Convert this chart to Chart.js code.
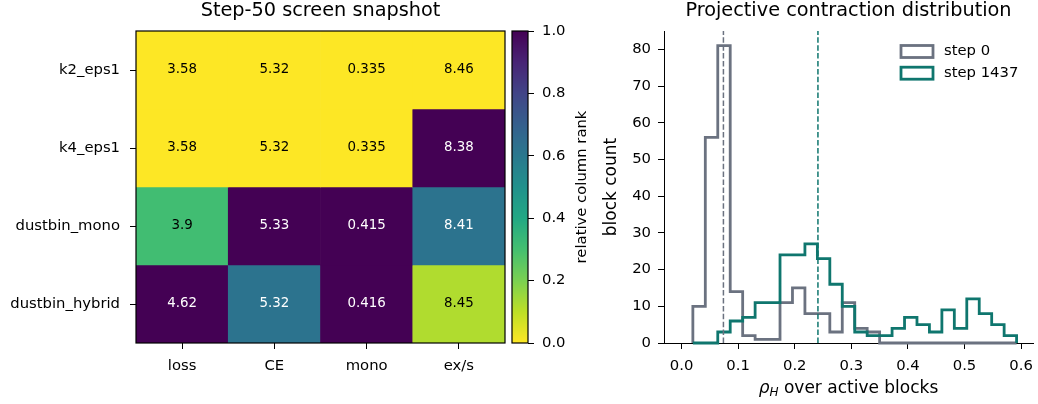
<!DOCTYPE html>
<html>
<head>
<meta charset="utf-8">
<script src="https://cdn.jsdelivr.net/npm/chart.js@4.4.1/dist/chart.umd.min.js"></script>
<style>
  html, body { margin:0; padding:0; background:#fff; }
  #wrap { position:relative; width:1038px; height:404px; overflow:hidden; }
  .box { position:absolute; top:0; height:404px; }
  #heatBox { left:0; width:510px; }
  #cbarBox { left:505px; width:100px; }
  #histBox { left:600px; width:438px; }
</style>
</head>
<body>
<div id="wrap">
  <div class="box" id="heatBox"><canvas id="heatChart"></canvas></div>
  <div class="box" id="cbarBox"><canvas id="cbarChart"></canvas></div>
  <div class="box" id="histBox"><canvas id="histChart"></canvas></div>
</div>
<script>
/* ===== data: heatmap ===== */
const rowLabels = ['k2_eps1', 'k4_eps1', 'dustbin_mono', 'dustbin_hybrid'];
const colLabels = ['loss', 'CE', 'mono', 'ex/s'];
const cellValues = [
  [3.58, 5.32, 0.335, 8.46],
  [3.58, 5.32, 0.335, 8.38],
  [3.9,  5.33, 0.415, 8.41],
  [4.62, 5.32, 0.416, 8.45]
];
// relative column rank (colour)
const cellRanks = [
  [0,    0,    0, 0],
  [0,    0,    0, 1],
  [0.31, 1,    1, 0.62],
  [1,    0.62, 1, 0.12]
];
const rankTicks = [0, 0.2, 0.4, 0.6, 0.8, 1.0];

/* ===== data: histogram ===== */
const binEdges = [0.020, 0.042, 0.064, 0.086, 0.108, 0.130, 0.152, 0.174, 0.196,
  0.218, 0.240, 0.262, 0.284, 0.306, 0.328, 0.350, 0.372, 0.394, 0.416, 0.438,
  0.460, 0.482, 0.504, 0.526, 0.548, 0.570, 0.592];
const countsStep0    = [10, 56, 81, 14, 2, 1, 1, 11, 15, 8, 8, 3, 11, 4, 3, 0, 0, 0, 0, 0, 0, 0, 0, 0, 0, 0];
const countsStep1437 = [0, 0, 3, 6, 7, 11, 11, 24, 24, 27, 23, 16, 10, 3, 2, 2, 4, 7, 5, 3, 9, 4, 12, 8, 5, 2];
const meanStep0 = 0.074;
const meanStep1437 = 0.241;
const histXTicks = [0, 0.1, 0.2, 0.3, 0.4, 0.5, 0.6];
const histYTicks = [0, 10, 20, 30, 40, 50, 60, 70, 80];

/* ===== colours / fonts ===== */
const GRAY = '#6b7280';
const TEAL = '#0f766e';
const FONT = 'DejaVu Sans';
const TICK = 14.8;
const VIRIDIS = ['#440154', '#482475', '#414487', '#355f8d', '#2a788e', '#21918c',
  '#22a884', '#44bf70', '#7ad151', '#bddf26', '#fde725'];

Chart.defaults.font.family = FONT;
Chart.defaults.color = '#000';

function hexToRgb(h){ return [1,3,5].map(i => parseInt(h.slice(i, i+2), 16)); }
function viridis(t){
  t = Math.min(1, Math.max(0, t));
  const p = t * (VIRIDIS.length - 1);
  const i = Math.min(VIRIDIS.length - 2, Math.floor(p));
  const f = p - i;
  const a = hexToRgb(VIRIDIS[i]), b = hexToRgb(VIRIDIS[i+1]);
  const c = a.map((v, k) => Math.round(v + (b[k] - v) * f));
  return `rgb(${c[0]},${c[1]},${c[2]})`;
}
// reversed map: rank 0 -> yellow, rank 1 -> purple
const rankColor = r => viridis(1 - r);

// force an axis to an exact thickness so chart areas line up
function fitTo(size){
  return scale => {
    if (scale.isHorizontal()) scale.height = size; else scale.width = size;
    scale.paddingLeft = scale.paddingRight = scale.paddingTop = scale.paddingBottom = 0;
  };
}
function fixedTicks(list){
  return scale => { scale.ticks = list.map(v => ({ value: v })); };
}
function text(ctx, str, x, y, size, opts = {}){
  ctx.save();
  ctx.font = `${opts.style || ''} ${size}px "${FONT}"`;
  ctx.fillStyle = opts.color || '#000';
  ctx.textAlign = opts.align || 'center';
  ctx.textBaseline = opts.baseline || 'middle';
  if (opts.rotate){ ctx.translate(x, y); ctx.rotate(opts.rotate); ctx.fillText(str, 0, 0); }
  else ctx.fillText(str, x, y);
  ctx.restore();
}

const tickGrid = len => ({ display: true, drawOnChartArea: false, drawTicks: true,
  tickLength: len, tickColor: '#000', tickWidth: 1 });

/* ===== heatmap ===== */
const heatPlugin = {
  id: 'heatExtras',
  afterDatasetsDraw(chart){
    const { ctx, chartArea: a, scales: { x, y } } = chart;
    cellValues.forEach((row, r) => row.forEach((v, c) => {
      text(ctx, String(v), x.getPixelForValue(c), y.getPixelForValue(r), 13.4,
        { color: cellRanks[r][c] > 0.5 ? '#fff' : '#000' });
    }));
    ctx.save();
    ctx.strokeStyle = '#000';
    ctx.lineWidth = 1.2;
    ctx.strokeRect(a.left, a.top, a.right - a.left, a.bottom - a.top);
    ctx.restore();
    text(ctx, 'Step-50 screen snapshot', (a.left + a.right) / 2, 16, 19.3, { baseline: 'alphabetic' });
  }
};

new Chart(document.getElementById('heatChart'), {
  type: 'bar',
  data: {
    labels: colLabels,
    datasets: rowLabels.map((name, r) => ({
      label: name,
      data: colLabels.map(() => [r - 0.5, r + 0.5]),
      backgroundColor: cellRanks[r].map(rankColor),
      borderWidth: 0,
      grouped: false,
      barPercentage: 1,
      categoryPercentage: 1
    }))
  },
  options: {
    responsive: true, maintainAspectRatio: false, animation: false, devicePixelRatio: 1,
    layout: { padding: { left: 0, top: 31, right: 5, bottom: 0 } },
    plugins: { legend: { display: false }, tooltip: { enabled: false } },
    scales: {
      x: {
        grid: { ...tickGrid(6), offset: false },
        border: { display: false },
        ticks: { font: { size: TICK }, padding: 8, maxRotation: 0 },
        afterFit: fitTo(61)
      },
      y: {
        type: 'linear', reverse: true, min: -0.5, max: 3.5,
        grid: tickGrid(6),
        border: { display: false },
        afterBuildTicks: fixedTicks(rowLabels.map((_, i) => i)),
        ticks: { font: { size: TICK }, padding: 10, callback: v => rowLabels[v] },
        afterFit: fitTo(136)
      }
    }
  },
  plugins: [heatPlugin]
});

/* ===== colorbar ===== */
const cbarPlugin = {
  id: 'cbarExtras',
  beforeDatasetsDraw(chart){
    const { ctx, chartArea: a } = chart;
    const g = ctx.createLinearGradient(0, a.bottom, 0, a.top);
    for (let i = 0; i <= 20; i++) g.addColorStop(i / 20, rankColor(i / 20));
    ctx.save();
    ctx.fillStyle = g;
    ctx.fillRect(a.left, a.top, a.right - a.left, a.bottom - a.top);
    ctx.strokeStyle = '#000';
    ctx.lineWidth = 1.2;
    ctx.strokeRect(a.left, a.top, a.right - a.left, a.bottom - a.top);
    ctx.restore();
  },
  afterDraw(chart){
    const { ctx, chartArea: a } = chart;
    text(ctx, 'relative column rank', 77, (a.top + a.bottom) / 2, TICK, { rotate: -Math.PI / 2 });
  }
};

new Chart(document.getElementById('cbarChart'), {
  type: 'bar',
  data: { labels: [''], datasets: [{ data: [] }] },
  options: {
    responsive: true, maintainAspectRatio: false, animation: false, devicePixelRatio: 1,
    layout: { padding: { left: 7, top: 31, right: 0, bottom: 61 } },
    plugins: { legend: { display: false }, tooltip: { enabled: false } },
    scales: {
      x: { display: false },
      y: {
        position: 'right', min: 0, max: 1,
        grid: tickGrid(6),
        border: { display: false },
        afterBuildTicks: fixedTicks(rankTicks),
        ticks: { font: { size: TICK }, padding: 8, callback: v => v.toFixed(1) },
        afterFit: fitTo(77)
      }
    }
  },
  plugins: [cbarPlugin]
});

/* ===== histogram ===== */
function stepPoints(edges, counts){
  const pts = [{ x: edges[0], y: 0 }];
  counts.forEach((c, i) => pts.push({ x: edges[i], y: c }));
  pts.push({ x: edges[edges.length - 1], y: 0 });
  return pts;
}
const Y_MAX = 85;

const histPlugin = {
  id: 'histExtras',
  afterDraw(chart){
    const { ctx, chartArea: a } = chart;
    text(ctx, 'Projective contraction distribution', (a.left + a.right) / 2, 16, 19.3, { baseline: 'alphabetic' });
    text(ctx, 'block count', 12, (a.top + a.bottom) / 2, 17, { rotate: -Math.PI / 2 });

    // x title with rho_H
    const cx = (a.left + a.right) / 2, by = 393;
    ctx.save();
    const f1 = `italic 17px "${FONT}"`, f2 = `italic 12px "${FONT}"`, f3 = `17px "${FONT}"`;
    ctx.font = f1; const w1 = ctx.measureText('ρ').width;
    ctx.font = f2; const w2 = ctx.measureText('H').width;
    ctx.font = f3; const w3 = ctx.measureText(' over active blocks').width;
    let x0 = cx - (w1 + w2 + w3) / 2;
    ctx.fillStyle = '#000';
    ctx.textBaseline = 'alphabetic';
    ctx.font = f1; ctx.fillText('ρ', x0, by); x0 += w1;
    ctx.font = f2; ctx.fillText('H', x0, by + 3); x0 += w2;
    ctx.font = f3; ctx.fillText(' over active blocks', x0, by);
    ctx.restore();

    // legend
    const items = chart.data.datasets.filter(d => d.inLegend);
    items.forEach((d, i) => {
      const bx = a.right - 132, bt = 45.5 + i * 21.7;
      ctx.save();
      ctx.fillStyle = '#fff';
      ctx.fillRect(bx, bt, 32, 12);
      ctx.strokeStyle = d.borderColor;
      ctx.lineWidth = 2.8;
      ctx.strokeRect(bx, bt, 32, 12);
      ctx.restore();
      text(ctx, d.label, bx + 43, bt + 6, TICK, { align: 'left' });
    });
  }
};

const stepStyle = { showLine: true, stepped: 'before', pointRadius: 0, borderWidth: 2.8,
  fill: false, clip: false, tension: 0 };
const meanStyle = { showLine: true, pointRadius: 0, borderWidth: 1.5, borderDash: [5.5, 2.4], fill: false };

new Chart(document.getElementById('histChart'), {
  type: 'scatter',
  data: {
    datasets: [
      { label: 'step 1437 mean', data: [{ x: meanStep1437, y: 0 }, { x: meanStep1437, y: Y_MAX }],
        borderColor: TEAL, order: 0, ...meanStyle },
      { label: 'step 0 mean', data: [{ x: meanStep0, y: 0 }, { x: meanStep0, y: Y_MAX }],
        borderColor: GRAY, order: 1, ...meanStyle },
      { label: 'step 0', inLegend: true, data: stepPoints(binEdges, countsStep0),
        borderColor: GRAY, order: 3, ...stepStyle },
      { label: 'step 1437', inLegend: true, data: stepPoints(binEdges, countsStep1437),
        borderColor: TEAL, order: 2, ...stepStyle }
    ]
  },
  options: {
    responsive: true, maintainAspectRatio: false, animation: false, devicePixelRatio: 1,
    layout: { padding: { left: 0, top: 31, right: 5, bottom: 0 } },
    plugins: { legend: { display: false }, tooltip: { enabled: false } },
    scales: {
      x: {
        type: 'linear', min: -0.031, max: 0.621,
        grid: tickGrid(6),
        border: { display: true, color: '#000', width: 1 },
        afterBuildTicks: fixedTicks(histXTicks),
        ticks: { font: { size: TICK }, padding: 8, maxRotation: 0, callback: v => v.toFixed(1) },
        afterFit: fitTo(61)
      },
      y: {
        type: 'linear', min: 0, max: Y_MAX,
        grid: tickGrid(6),
        border: { display: true, color: '#000', width: 1 },
        afterBuildTicks: fixedTicks(histYTicks),
        ticks: { font: { size: TICK }, padding: 7, callback: v => String(v) },
        afterFit: fitTo(64)
      }
    }
  },
  plugins: [histPlugin]
});
</script>
</body>
</html>
